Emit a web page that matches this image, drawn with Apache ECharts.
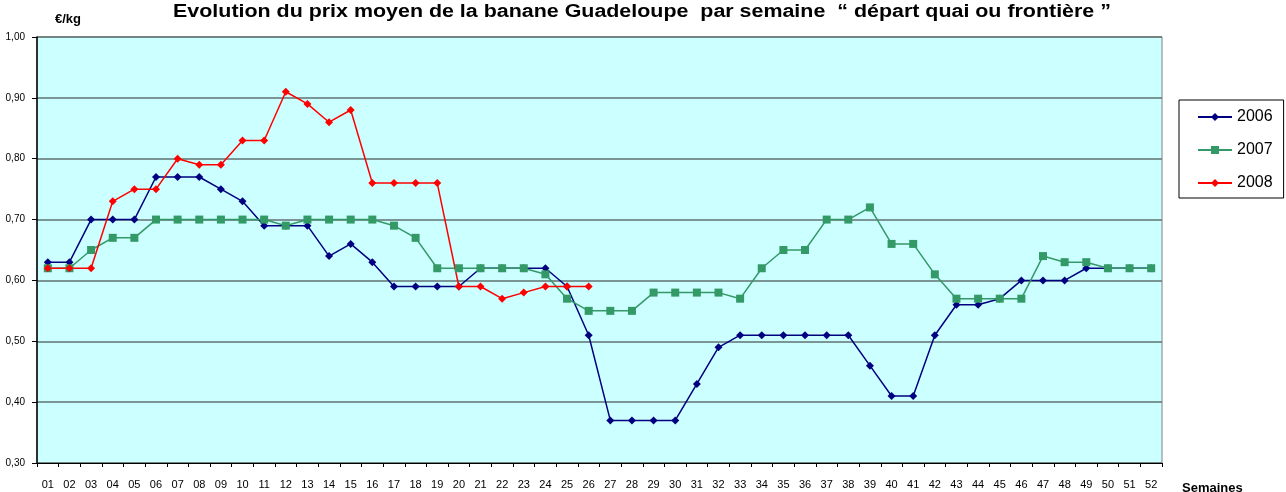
<!DOCTYPE html>
<html>
<head>
<meta charset="utf-8">
<script src="https://cdn.jsdelivr.net/npm/echarts@6/dist/echarts.min.js"></script>
<style>
  html, body { margin: 0; padding: 0; background: #fff; }
  #chart { width: 1286px; height: 492px; }
</style>
</head>
<body>
<div id="chart"></div>
<script>
  // semaines 01..52
  const weeks = [];
  for (let i = 1; i <= 52; i++) weeks.push(i < 10 ? '0' + i : String(i));

  const prix2006 = [0.63, 0.63, 0.70, 0.70, 0.70, 0.77, 0.77, 0.77, 0.75, 0.73,
    0.69, 0.69, 0.69, 0.64, 0.66, 0.63, 0.59, 0.59, 0.59, 0.59,
    0.62, 0.62, 0.62, 0.62, 0.59, 0.51, 0.37, 0.37, 0.37, 0.37,
    0.43, 0.49, 0.51, 0.51, 0.51, 0.51, 0.51, 0.51, 0.46, 0.41,
    0.41, 0.51, 0.56, 0.56, 0.57, 0.60, 0.60, 0.60, 0.62, 0.62,
    0.62, 0.62];

  const prix2007 = [0.62, 0.62, 0.65, 0.67, 0.67, 0.70, 0.70, 0.70, 0.70, 0.70,
    0.70, 0.69, 0.70, 0.70, 0.70, 0.70, 0.69, 0.67, 0.62, 0.62,
    0.62, 0.62, 0.62, 0.61, 0.57, 0.55, 0.55, 0.55, 0.58, 0.58,
    0.58, 0.58, 0.57, 0.62, 0.65, 0.65, 0.70, 0.70, 0.72, 0.66,
    0.66, 0.61, 0.57, 0.57, 0.57, 0.57, 0.64, 0.63, 0.63, 0.62,
    0.62, 0.62];

  const prix2008 = [0.62, 0.62, 0.62, 0.73, 0.75, 0.75, 0.80, 0.79, 0.79, 0.83,
    0.83, 0.91, 0.89, 0.86, 0.88, 0.76, 0.76, 0.76, 0.76, 0.59,
    0.59, 0.57, 0.58, 0.59, 0.59, 0.59];

  const yTicks = [0.3, 0.4, 0.5, 0.6, 0.7, 0.8, 0.9, 1.0];

  const narrow = '"Liberation Sans Narrow", "Liberation Sans", Arial, sans-serif';
  const sans = '"Liberation Sans", Arial, sans-serif';

  const chart = echarts.init(document.getElementById('chart'));

  function serie(name, data, color, symbol, size) {
    return {
      name: name,
      type: 'line',
      data: data,
      symbol: symbol,
      symbolSize: size,
      lineStyle: { color: color, width: 1.5 },
      itemStyle: { color: color },
      animation: false
    };
  }

  chart.setOption({
    backgroundColor: '#ffffff',
    graphic: [
      {
        // titre étiré comme dans l'original
        type: 'text', x: 642, y: 12, scaleX: 1.19,
        style: {
          text: 'Evolution du prix moyen de la banane Guadeloupe  par semaine  \u201c départ quai ou frontière \u201d',
          font: 'bold 18px ' + sans, fill: '#000',
          align: 'center', verticalAlign: 'middle'
        }
      },
      {
        type: 'text', x: 55, y: 19,
        style: { text: '€/kg', font: 'bold 13px ' + narrow, fill: '#000', verticalAlign: 'middle' }
      },
      {
        type: 'text', x: 1182, y: 482,
        style: { text: 'Semaines', font: 'bold 13px ' + sans, fill: '#000' }
      }
    ],
    legend: {
      orient: 'vertical',
      left: 1179,
      top: 100,
      padding: [8, 11, 6, 18],
      itemGap: 15,
      itemWidth: 34,
      itemHeight: 10,
      borderColor: '#000',
      borderWidth: 1,
      textStyle: { fontFamily: sans, fontSize: 16, lineHeight: 18, color: '#000' },
      data: ['2006', '2007', '2008']
    },
    grid: {
      left: 37, right: 124, top: 37, bottom: 29,
      show: true,
      backgroundColor: '#ccffff',
      borderColor: '#808080',
      borderWidth: 1
    },
    xAxis: {
      type: 'category',
      data: weeks,
      boundaryGap: true,
      axisLine: { lineStyle: { color: '#000', width: 1 } },
      axisTick: { show: true, length: 4, lineStyle: { color: '#000' } },
      axisLabel: { fontFamily: narrow, fontSize: 11, color: '#000', interval: 0, margin: 16 },
      splitLine: { show: false }
    },
    yAxis: {
      type: 'value',
      min: yTicks[0],
      max: yTicks[yTicks.length - 1],
      interval: 0.1,
      axisLine: { show: true, lineStyle: { color: '#000', width: 1.5 } },
      axisTick: { show: true, length: 5, lineStyle: { color: '#000' } },
      axisLabel: {
        fontFamily: narrow, fontSize: 10, color: '#000', margin: 12,
        formatter: function (v) { return v.toFixed(2).replace('.', ','); }
      },
      splitLine: { show: true, lineStyle: { color: '#607070', width: 1.5 } }
    },
    series: [
      serie('2006', prix2006, '#000080', 'diamond', 8),
      serie('2007', prix2007, '#339966', 'rect', 8),
      serie('2008', prix2008, '#ff0000', 'diamond', 8)
    ]
  });
</script>
</body>
</html>
